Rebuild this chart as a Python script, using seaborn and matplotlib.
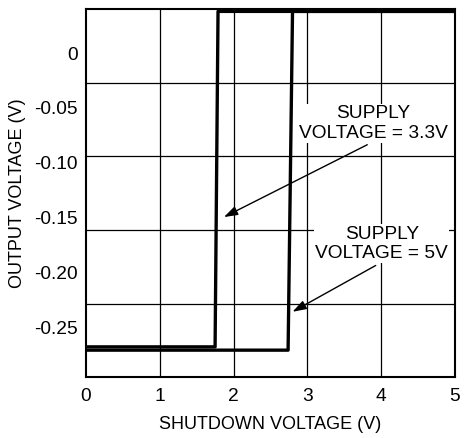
import matplotlib
matplotlib.use("Agg")
import matplotlib.pyplot as plt
import seaborn as sns
import pandas as pd
import numpy as np

sns.set_theme(style="white")
plt.rcParams['font.family'] = ['Liberation Sans', 'DejaVu Sans']

# Data
x_33 = [0.0, 1.75, 1.79, 5.0]
y_33 = [-0.268, -0.268, 0.038, 0.038]
x_5 = [0.0, 2.74, 2.80, 5.0]
y_5 = [-0.271, -0.271, 0.038, 0.038]
y_ticks = [0, -0.05, -0.10, -0.15, -0.20, -0.25]
y_ticklabels = ["0", "-0.05", "-0.10", "-0.15", "-0.20", "-0.25"]
x_ticks = [0, 1, 2, 3, 4, 5]

df = pd.concat([
    pd.DataFrame({"x": x_33, "y": y_33, "s": "3.3V"}),
    pd.DataFrame({"x": x_5, "y": y_5, "s": "5V"}),
])

fig = plt.figure(figsize=(4.65, 4.38), dpi=100)
ax = fig.add_axes([0.185, 0.139, 0.793, 0.840])

sns.lineplot(data=df, x="x", y="y", hue="s", palette=["black", "black"],
             sort=False, estimator=None, linewidth=2.4, legend=False, ax=ax)

ylo, yhi = -0.2956, 0.040
ax.set_xlim(0, 5)
ax.set_ylim(ylo, yhi)

# grid: vertical at integer x, horizontal at equal fifths of the frame
for xv in [1, 2, 3, 4]:
    ax.axvline(xv, color="black", lw=0.9, zorder=0)
for k in range(1, 5):
    ax.axhline(ylo + k * (yhi - ylo) / 5, color="black", lw=0.9, zorder=0)

ax.set_xticks(x_ticks)
ax.set_xticklabels([str(v) for v in x_ticks])
ax.set_yticks(y_ticks)
ax.set_yticklabels(y_ticklabels)
ax.tick_params(axis="both", length=0, labelsize=13.8, colors="black")
ax.tick_params(axis="y", pad=6)
ax.tick_params(axis="x", pad=8)

for sp in ax.spines.values():
    sp.set_color("black")
    sp.set_linewidth(1.5)

ax.set_xlabel("SHUTDOWN VOLTAGE (V)", fontsize=13, color="black", labelpad=8)
ax.set_ylabel("OUTPUT VOLTAGE (V)", fontsize=13, color="black", labelpad=6)

bbox = dict(facecolor="white", edgecolor="none", pad=1)
arrow = dict(arrowstyle="-|>,head_length=0.6,head_width=0.2",
             color="black", lw=1.0, shrinkA=3, shrinkB=0, relpos=(0.5, 0.0))
ax.annotate("SUPPLY\nVOLTAGE = 3.3V", xy=(1.87, -0.1496), xytext=(3.90, -0.064),
            ha="center", va="center", fontsize=13.8, color="black", bbox=bbox,
            arrowprops=arrow)
ax.annotate("SUPPLY\nVOLTAGE = 5V", xy=(2.80, -0.236), xytext=(4.01, -0.174),
            ha="center", va="center", fontsize=13.8, color="black", bbox=bbox,
            arrowprops=arrow)

fig.savefig("out.png", dpi=100)
